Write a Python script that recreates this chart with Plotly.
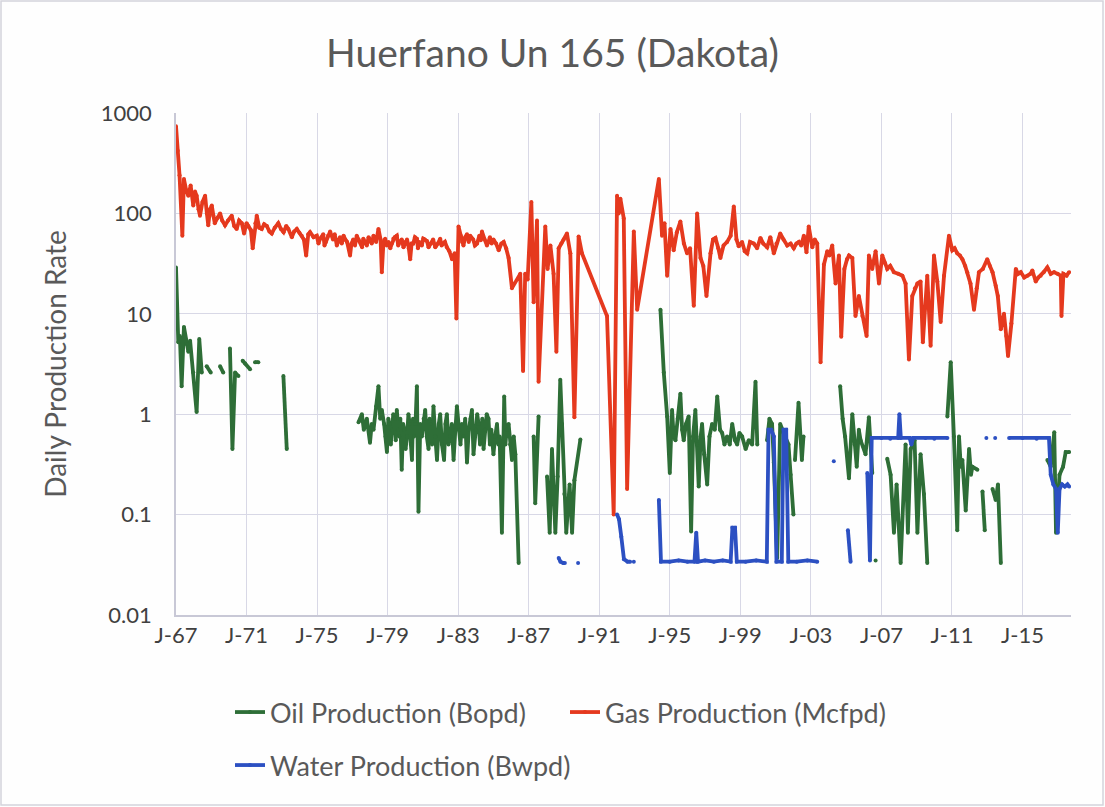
import plotly.graph_objects as go

title_text = "Huerfano Un 165 (Dakota)"
y_title = "Daily Production Rate"
series_names = ["Oil Production (Bopd)", "Gas Production (Mcfpd)", "Water Production (Bwpd)"]
x_tick_years = [1967, 1971, 1975, 1979, 1983, 1987, 1991, 1995, 1999, 2003, 2007, 2011, 2015]
x_tick_text = ["J-67", "J-71", "J-75", "J-79", "J-83", "J-87", "J-91", "J-95", "J-99", "J-03", "J-07", "J-11", "J-15"]
y_tick_vals = [0.01, 0.1, 1, 10, 100, 1000]
y_tick_text = ["0.01", "0.1", "1", "10", "100", "1000"]

# (decimal year, rate); None = no production reported
gas = [
    (1967.00, 740), (1967.10, 420), (1967.20, 240), (1967.36, 60), (1967.45, 220), (1967.58, 170),
    (1967.70, 150), (1967.83, 190), (1967.98, 120), (1968.08, 165), (1968.17, 150), (1968.28, 110),
    (1968.36, 95), (1968.50, 130), (1968.65, 150), (1968.75, 100), (1968.83, 76), (1968.93, 110),
    (1969.03, 120), (1969.12, 95), (1969.20, 80), (1969.35, 90), (1969.50, 100), (1969.62, 85),
    (1969.78, 76), (1969.95, 85), (1970.16, 95), (1970.30, 75), (1970.44, 70), (1970.58, 85),
    (1970.73, 80), (1970.86, 63), (1971.00, 80), (1971.10, 75), (1971.25, 68), (1971.35, 45),
    (1971.50, 80), (1971.58, 95), (1971.72, 72), (1971.86, 70), (1972.00, 78), (1972.15, 75),
    (1972.30, 66), (1972.43, 63), (1972.60, 72), (1972.80, 80), (1972.95, 70), (1973.10, 65),
    (1973.25, 75), (1973.37, 70), (1973.57, 58), (1973.70, 66), (1973.85, 70), (1974.00, 64),
    (1974.13, 60), (1974.25, 55), (1974.38, 38), (1974.50, 62), (1974.60, 65), (1974.80, 58),
    (1974.98, 60), (1975.08, 50), (1975.17, 56), (1975.35, 62), (1975.42, 48), (1975.50, 52),
    (1975.62, 60), (1975.74, 66), (1975.90, 55), (1976.00, 62), (1976.12, 48), (1976.22, 55),
    (1976.30, 58), (1976.40, 50), (1976.50, 60), (1976.60, 55), (1976.70, 52), (1976.87, 38),
    (1976.95, 50), (1977.05, 55), (1977.15, 48), (1977.25, 60), (1977.35, 55), (1977.45, 52),
    (1977.55, 46), (1977.62, 56), (1977.72, 52), (1977.82, 48), (1977.92, 58), (1978.00, 55),
    (1978.10, 50), (1978.20, 60), (1978.35, 52), (1978.48, 70), (1978.60, 55), (1978.67, 26),
    (1978.76, 50), (1978.86, 56), (1978.95, 48), (1979.05, 52), (1979.15, 45), (1979.24, 50),
    (1979.32, 56), (1979.40, 58), (1979.52, 60), (1979.60, 48), (1979.70, 52), (1979.80, 55),
    (1979.90, 46), (1980.00, 52), (1980.10, 55), (1980.20, 45), (1980.28, 35), (1980.36, 50),
    (1980.45, 50), (1980.55, 58), (1980.66, 56), (1980.72, 45), (1980.80, 52), (1980.94, 48),
    (1981.02, 56), (1981.10, 55), (1981.23, 53), (1981.32, 46), (1981.45, 50), (1981.58, 55),
    (1981.70, 46), (1981.85, 50), (1981.98, 56), (1982.06, 48), (1982.15, 50), (1982.25, 52),
    (1982.36, 46), (1982.50, 42), (1982.65, 35), (1982.80, 40), (1982.90, 9), (1983.02, 74),
    (1983.15, 60), (1983.22, 52), (1983.30, 48), (1983.40, 58), (1983.50, 62), (1983.60, 52),
    (1983.68, 60), (1983.85, 55), (1983.95, 48), (1984.07, 50), (1984.20, 60), (1984.28, 54),
    (1984.35, 66), (1984.50, 55), (1984.63, 48), (1984.72, 52), (1984.80, 58), (1984.90, 50),
    (1985.00, 55), (1985.15, 50), (1985.30, 43), (1985.45, 50), (1985.58, 52), (1985.72, 45),
    (1985.86, 36), (1986.05, 18), (1986.52, 25), (1986.68, 2.7), (1986.80, 25), (1986.94, 22),
    (1987.15, 130), (1987.28, 13), (1987.47, 85), (1987.56, 2.1), (1987.94, 74), (1988.07, 28),
    (1988.23, 48), (1988.41, 25), (1988.57, 4.2), (1988.70, 45), (1988.85, 50), (1988.98, 55),
    (1989.17, 63), (1989.36, 40), (1989.59, 0.93), (1989.83, 59), (1990.02, 40), (1991.44, 9.5),
    (1991.82, 0.1), (1992.01, 150), (1992.10, 100), (1992.20, 140), (1992.39, 89), (1992.58, 0.18),
    (1992.96, 66), (1993.15, 11), (1994.38, 220), (1994.56, 60), (1994.70, 80), (1994.85, 24),
    (1995.04, 70), (1995.22, 43), (1995.40, 65), (1995.60, 83), (1995.80, 50), (1995.98, 40),
    (1996.15, 45), (1996.36, 12), (1996.55, 100), (1996.74, 36), (1996.90, 30), (1997.08, 15),
    (1997.31, 40), (1997.45, 55), (1997.59, 57), (1997.75, 45), (1997.87, 36), (1998.05, 48),
    (1998.25, 52), (1998.45, 60), (1998.63, 117), (1998.78, 55), (1998.91, 47), (1999.10, 52),
    (1999.25, 42), (1999.39, 40), (1999.55, 52), (1999.76, 50), (1999.95, 45), (2000.14, 57),
    (2000.30, 50), (2000.52, 46), (2000.70, 58), (2000.90, 40), (2001.05, 50), (2001.26, 63),
    (2001.45, 55), (2001.66, 48), (2001.85, 50), (2002.03, 45), (2002.18, 50), (2002.32, 52),
    (2002.45, 48), (2002.60, 60), (2002.75, 41), (2002.88, 74), (2003.08, 46), (2003.22, 55),
    (2003.36, 50), (2003.55, 3.3), (2003.74, 31), (2003.93, 42), (2004.05, 38), (2004.21, 48),
    (2004.40, 20), (2004.59, 38), (2004.72, 5.9), (2004.90, 28), (2005.05, 35), (2005.16, 38),
    (2005.35, 36), (2005.53, 9.5), (2005.72, 15), (2005.92, 9.5), (2006.16, 6), (2006.29, 38),
    (2006.48, 28), (2006.67, 42), (2006.86, 20), (2007.05, 38), (2007.20, 32), (2007.33, 28),
    (2007.50, 30), (2007.71, 26), (2007.95, 25), (2008.19, 24), (2008.37, 20), (2008.56, 3.5),
    (2008.75, 15), (2008.90, 18), (2009.04, 20), (2009.22, 21), (2009.35, 5.2), (2009.60, 24),
    (2009.79, 4.8), (2009.98, 38), (2010.17, 21), (2010.36, 8.3), (2010.55, 24), (2010.83, 60),
    (2011.02, 43), (2011.15, 45), (2011.30, 40), (2011.45, 38), (2011.59, 35), (2011.75, 30),
    (2011.87, 26), (2012.05, 20), (2012.25, 11), (2012.40, 18), (2012.53, 26), (2012.75, 28),
    (2013.00, 35), (2013.15, 30), (2013.30, 26), (2013.48, 19), (2013.60, 15), (2013.77, 7),
    (2013.95, 10), (2014.08, 6), (2014.18, 3.8), (2014.37, 8), (2014.62, 28), (2014.75, 25),
    (2014.90, 26), (2015.10, 23), (2015.28, 24), (2015.45, 25), (2015.56, 27), (2015.75, 21),
    (2015.90, 23), (2016.03, 24), (2016.20, 26), (2016.41, 29), (2016.60, 25), (2016.79, 26),
    (2017.00, 25), (2017.17, 24), (2017.21, 9.5), (2017.32, 25), (2017.50, 24), (2017.64, 26),
]

oil = [
    (1967.00, 29), (1967.13, 5.2), (1967.22, 6), (1967.32, 1.9), (1967.45, 7.4), (1967.60, 5),
    (1967.70, 4.2), (1967.80, 5.4), (1967.98, 2.6), (1968.17, 1.05), (1968.32, 5.6), (1968.46, 2.6),
    (1968.55, None), (1968.74, 3.0), (1968.97, 2.6), (1969.2, None), (1969.50, 3.0), (1969.68, 2.6),
    (1969.9, None), (1970.06, 4.5), (1970.20, 0.45), (1970.35, 2.6), (1970.54, 2.4), (1970.65, None),
    (1970.78, 3.4), (1970.92, 3.2), (1971.20, 2.8), (1971.35, None), (1971.48, 3.3), (1971.67, 3.3),
    (1972.0, None), (1973.09, 2.4), (1973.28, 0.45), (1973.5, None),
    (1977.35, 0.83), (1977.54, 1.0), (1977.65, 0.7), (1977.82, 0.9), (1978.00, 0.52), (1978.10, 0.8),
    (1978.20, 0.7), (1978.35, 1.2), (1978.48, 1.9), (1978.58, 0.9), (1978.67, 1.1), (1978.80, 0.8),
    (1978.88, 0.6), (1978.96, 0.42), (1979.04, 0.9), (1979.10, 0.8), (1979.18, 0.5), (1979.24, 0.7),
    (1979.32, 1.0), (1979.40, 0.9), (1979.46, 0.55), (1979.52, 1.1), (1979.58, 0.7), (1979.65, 0.6),
    (1979.72, 0.9), (1979.80, 0.28), (1979.88, 0.8), (1979.95, 0.7), (1980.02, 0.45), (1980.10, 0.6),
    (1980.18, 1.0), (1980.25, 0.8), (1980.32, 0.5), (1980.38, 0.35), (1980.44, 0.9), (1980.50, 0.6),
    (1980.58, 0.8), (1980.66, 1.9), (1980.75, 0.107), (1980.85, 0.8), (1980.94, 0.6), (1981.04, 0.9),
    (1981.13, 1.1), (1981.22, 0.6), (1981.32, 0.45), (1981.38, 0.9), (1981.45, 0.8), (1981.52, 0.5),
    (1981.60, 1.2), (1981.70, 0.6), (1981.80, 0.35), (1981.90, 0.8), (1981.98, 1.0), (1982.08, 0.5),
    (1982.20, 0.35), (1982.28, 0.8), (1982.36, 1.0), (1982.45, 0.5), (1982.55, 0.6), (1982.64, 0.8),
    (1982.74, 0.35), (1982.84, 0.7), (1982.93, 1.2), (1983.05, 0.7), (1983.13, 0.5), (1983.21, 0.8),
    (1983.30, 0.6), (1983.40, 0.9), (1983.50, 0.33), (1983.60, 0.7), (1983.70, 0.9), (1983.78, 1.1),
    (1983.87, 0.4), (1984.00, 0.7), (1984.08, 1.0), (1984.16, 0.8), (1984.24, 0.5), (1984.30, 0.6),
    (1984.37, 0.9), (1984.44, 0.45), (1984.52, 0.7), (1984.62, 1.0), (1984.72, 0.9), (1984.80, 0.5),
    (1984.88, 0.7), (1985.00, 0.4), (1985.10, 0.6), (1985.20, 0.8), (1985.28, 0.5), (1985.35, 0.6),
    (1985.48, 0.066), (1985.61, 1.5), (1985.68, 0.5), (1985.75, 0.7), (1985.86, 0.8), (1985.95, 0.5),
    (1986.05, 0.35), (1986.15, 0.6), (1986.24, 0.4), (1986.43, 0.033), (1986.8, None),
    (1987.28, 0.6), (1987.37, 0.13), (1987.56, 0.95), (1987.8, None),
    (1988.04, 0.24), (1988.19, 0.066), (1988.32, 0.45), (1988.51, 0.066), (1988.64, 0.24), (1988.79, 2.2),
    (1988.89, 0.8), (1989.02, 0.16), (1989.13, 0.066), (1989.32, 0.2), (1989.46, 0.066), (1989.59, 0.22),
    (1989.93, 0.56), (1990.5, None),
    (1994.47, 11), (1994.66, 2.6), (1994.85, 0.95), (1995.00, 0.26), (1995.13, 1.1), (1995.22, 0.6),
    (1995.32, 0.55), (1995.45, 0.9), (1995.60, 1.6), (1995.70, 0.7), (1995.79, 0.55), (1995.92, 0.8),
    (1996.07, 0.95), (1996.21, 0.068), (1996.32, 0.6), (1996.45, 1.1), (1996.55, 0.5), (1996.64, 0.19),
    (1996.75, 0.6), (1996.83, 0.8), (1996.95, 0.4), (1997.12, 0.2), (1997.25, 0.6), (1997.40, 0.8),
    (1997.55, 0.7), (1997.69, 1.5), (1997.85, 0.7), (1997.97, 0.65), (1998.10, 0.5), (1998.25, 0.6),
    (1998.40, 0.5), (1998.54, 0.8), (1998.70, 0.55), (1998.82, 0.5), (1998.95, 0.65), (1999.10, 0.6),
    (1999.30, 0.45), (1999.48, 0.55), (1999.67, 0.5), (1999.86, 2.1), (1999.96, 0.5), (2000.2, None),
    (2000.52, 0.55), (2000.65, 0.9), (2000.80, 0.8), (2000.90, 0.33), (2001.09, 0.037), (2001.26, 0.8),
    (2001.54, 0.6), (2001.73, 0.5), (2001.85, 0.25), (2002.01, 0.1), (2002.05, None), (2002.10, 0.35),
    (2002.30, 1.3), (2002.49, 0.35), (2002.58, 0.6), (2003.0, None),
    (2004.66, 1.9), (2004.80, 0.9), (2004.94, 0.6), (2005.16, 0.23), (2005.35, 1.0), (2005.48, 0.5),
    (2005.60, 0.3), (2005.72, 0.7), (2005.82, 0.55), (2006.10, 0.4), (2006.29, 0.93), (2006.48, 0.26),
    (2006.58, None), (2006.67, 0.035), (2006.9, None),
    (2007.33, 0.36), (2007.52, 0.25), (2007.71, 0.066), (2007.86, 0.2), (2008.09, 0.033),
    (2008.37, 0.5), (2008.50, 0.066), (2008.66, 0.45), (2008.88, 0.55), (2009.04, 0.066), (2009.22, 0.4),
    (2009.41, 0.16), (2009.60, 0.033), (2010.0, None),
    (2010.74, 0.95), (2010.93, 3.3), (2011.11, 0.6), (2011.30, 0.07), (2011.40, 0.6), (2011.50, 0.3),
    (2011.59, 0.35), (2011.78, 0.11), (2011.97, 0.45), (2012.08, 0.25), (2012.16, 0.3), (2012.44, 0.28),
    (2012.6, None), (2012.73, 0.17), (2012.86, 0.07), (2013.1, None), (2013.30, 0.18), (2013.48, 0.14),
    (2013.61, 0.2), (2013.77, 0.033), (2014.5, None),
    (2016.41, 0.35), (2016.60, 0.3), (2016.80, 0.66), (2016.90, 0.066), (2017.10, 0.25), (2017.30, 0.3),
    (2017.45, 0.42), (2017.64, 0.42),
]

water = [
    (1988.70, 0.037), (1988.80, 0.034), (1988.95, 0.033), (1989.05, 0.033), (1989.4, None),
    (1989.80, 0.033), (1990.5, None),
    (1992.01, 0.1), (1992.12, 0.09), (1992.25, 0.06), (1992.40, 0.036), (1992.60, 0.034), (1992.75, 0.034),
    (1992.85, None), (1992.96, 0.034), (1993.5, None),
    (1994.38, 0.14), (1994.50, 0.034), (1995.00, 0.034), (1995.50, 0.035), (1996.00, 0.034),
    (1996.40, 0.034), (1996.50, 0.066), (1996.60, 0.034), (1997.00, 0.035), (1997.50, 0.034),
    (1998.00, 0.035), (1998.45, 0.034), (1998.55, 0.074), (1998.70, 0.074), (1998.80, 0.034),
    (1999.30, 0.034), (1999.90, 0.035), (2000.50, 0.034), (2000.60, 0.7), (2000.75, 0.7),
    (2000.90, 0.6), (2001.05, 0.034), (2001.35, 0.034), (2001.45, 0.7), (2001.60, 0.7),
    (2001.72, 0.034), (2002.20, 0.034), (2002.80, 0.035), (2003.36, 0.034), (2003.8, None),
    (2004.30, 0.34), (2004.6, None), (2005.10, 0.07), (2005.25, 0.034), (2005.6, None),
    (2006.20, 0.26), (2006.35, 0.035), (2006.45, 0.58), (2007.00, 0.58), (2007.50, 0.57),
    (2007.95, 0.58), (2008.02, 1.0), (2008.10, 0.58), (2008.60, 0.58), (2008.70, 0.5),
    (2008.80, 0.58), (2009.50, 0.58), (2010.00, 0.57), (2010.74, 0.58), (2011.5, None),
    (2012.95, 0.58), (2013.2, None), (2013.45, 0.58), (2013.8, None),
    (2014.24, 0.58), (2015.00, 0.58), (2015.80, 0.57), (2016.50, 0.58), (2016.60, 0.25),
    (2016.75, 0.2), (2016.90, 0.18), (2017.00, 0.066), (2017.10, 0.18), (2017.25, 0.2),
    (2017.40, 0.19), (2017.55, 0.2), (2017.64, 0.19),
]

colors = {"oil": "#2E6E37", "gas": "#E5391E", "water": "#2C50C2"}
font_family = "Lato, 'Open Sans', sans-serif"
text_color = "#595959"
tick_color = "#404040"
grid_color = "#D8D8E6"

W, H = 1105, 807
ML, MR, MT, MB = 176, 34, 113, 192
pw, ph = W - ML - MR, H - MT - MB


def px_x(px):
    return (px - ML) / pw


def px_y(py):
    return (H - MB - py) / ph


fig = go.Figure()
for key, data, name, leg in [
    ("oil", oil, series_names[0], "legend"),
    ("gas", gas, series_names[1], "legend2"),
    ("water", water, series_names[2], "legend3"),
]:
    fig.add_trace(go.Scatter(
        x=[d[0] for d in data],
        y=[d[1] for d in data],
        name=name,
        mode="lines+markers",
        line=dict(color=colors[key], width=3.8),
        marker=dict(color=colors[key], size=4),
        connectgaps=False,
        showlegend=True,
        legend=leg,
    ))

legend_common = dict(
    orientation="h", xanchor="left", yanchor="top",
    font=dict(family=font_family, size=27, color=text_color),
    bgcolor="rgba(0,0,0,0)", itemwidth=30, visible=True,
)

fig.update_layout(
    width=W, height=H,
    showlegend=True,
    margin=dict(l=ML, r=MR, t=MT, b=MB),
    paper_bgcolor="#FEFEFE",
    plot_bgcolor="#FEFEFE",
    title=dict(text=title_text, x=0.5, xanchor="center", y=1 - 53 / H, yanchor="middle",
               xref="container", yref="container",
               font=dict(family=font_family, size=39, color=text_color)),
    font=dict(family=font_family, color=text_color),
    xaxis=dict(
        range=[1967, 2017.75],
        tickmode="array", tickvals=x_tick_years, ticktext=x_tick_text,
        showgrid=True, gridcolor=grid_color, gridwidth=1.2,
        showline=True, linecolor="#C8C8D6", linewidth=1.5,
        zeroline=False, ticks="",
        tickfont=dict(family=font_family, size=22, color=tick_color),
    ),
    yaxis=dict(
        type="log", range=[-2, 3],
        tickmode="array", tickvals=y_tick_vals, ticktext=y_tick_text,
        showgrid=True, gridcolor=grid_color, gridwidth=1.2,
        showline=True, linecolor="#C8C8D6", linewidth=1.5,
        zeroline=False, ticks="",
        ticklabelstandoff=18,
        tickfont=dict(family=font_family, size=22, color=tick_color),
        title=dict(text=y_title, standoff=26,
                   font=dict(family=font_family, size=28, color=text_color)),
    ),
    legend=dict(x=px_x(230), y=px_y(688), **legend_common),
    legend2=dict(x=px_x(565), y=px_y(688), **legend_common),
    legend3=dict(x=px_x(230), y=px_y(741), **legend_common),
    shapes=[dict(type="rect", xref="paper", yref="paper",
                 x0=px_x(1), x1=px_x(W - 2), y0=px_y(H - 2), y1=px_y(1),
                 line=dict(color="#D4D4DC", width=1.5), fillcolor="rgba(0,0,0,0)", layer="below")],
)

fig.write_html("out.html", config={"displayModeBar": False},
               post_script="document.body.style.margin='0px';")
